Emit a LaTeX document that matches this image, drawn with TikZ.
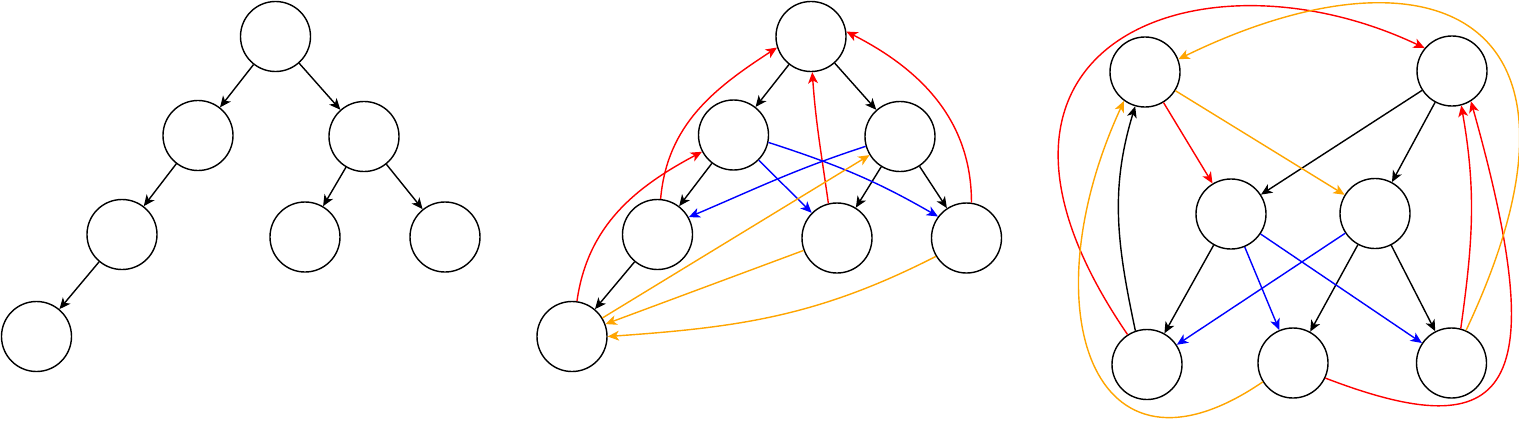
\documentclass[tikz,border=0pt]{standalone}
\usetikzlibrary{arrows.meta}
\definecolor{amber}{HTML}{FFA500}
\begin{document}
\begin{tikzpicture}[x=0.025cm, y=0.025cm,
	vert/.style={circle, draw, line width=1pt, minimum size=1.75cm, inner sep=0pt},
	conn/.style={-{Stealth[length=8pt,width=7pt,inset=2.2pt]}, line width=1pt}]
	\useasboundingbox (0,0) rectangle (1519,-422);
	\node[vert] (t0) at (275.5,-36.5) {};
	\node[vert] (t1) at (198,-135.5) {};
	\node[vert] (t2) at (364,-136.5) {};
	\node[vert] (t3) at (122,-234.5) {};
	\node[vert] (t4) at (305,-237) {};
	\node[vert] (t5) at (445,-237) {};
	\node[vert] (t6) at (36.5,-336.5) {};
	\draw[conn] (t0) -- (t1);
	\draw[conn] (t0) -- (t2);
	\draw[conn] (t1) -- (t3);
	\draw[conn] (t2) -- (t4);
	\draw[conn] (t2) -- (t5);
	\draw[conn] (t3) -- (t6);

	\node[vert] (g0) at (811,-36.5) {};
	\node[vert] (g1) at (733.5,-135) {};
	\node[vert] (g2) at (900,-136.5) {};
	\node[vert] (g3) at (657.5,-234.5) {};
	\node[vert] (g4) at (837,-238) {};
	\node[vert] (g5) at (966.5,-238) {};
	\node[vert] (g6) at (572,-336.5) {};
	\draw[conn] (g0) -- (g1);
	\draw[conn] (g0) -- (g2);
	\draw[conn] (g1) -- (g3);
	\draw[conn] (g2) -- (g4);
	\draw[conn] (g2) -- (g5);
	\draw[conn] (g3) -- (g6);
	\draw[conn, red] (g6.82) to[out=82,in=208] (g1.208);
	\draw[conn, red] (g3.85) to[out=85,in=213] (g0.198);
	\draw[conn, red] (g4.104) to[out=98,in=-86] (g0.272);
	\draw[conn, red] (g5.82) to[out=90,in=-27] (g0.8);
	\draw[conn, blue] (g1) -- (g4);
	\draw[conn, blue] (g1.-12) to[out=-18,in=150] (g5.143);
	\draw[conn, blue] (g2.196) to[out=198,in=23] (g3.29);
	\draw[conn, amber] (g6) -- (g2);
	\draw[conn, amber] (g4) -- (g6);
	\draw[conn, amber] (g5.211) to[out=207,in=4] (g6.0);

	\node[vert] (h1) at (1145,-72) {};
	\node[vert] (h2) at (1452,-71) {};
	\node[vert] (h3) at (1231,-214) {};
	\node[vert] (h4) at (1375,-213.5) {};
	\node[vert] (h5) at (1147,-364.5) {};
	\node[vert] (h6) at (1293,-363) {};
	\node[vert] (h7) at (1451.5,-363) {};
	\draw[conn] (h2) -- (h3);
	\draw[conn] (h2) -- (h4);
	\draw[conn] (h3) -- (h5);
	\draw[conn] (h4) -- (h6);
	\draw[conn] (h4) -- (h7);
	\draw[conn] (h5.109) to[out=102,in=253] (h1.254);
	\draw[conn, red] (h1) -- (h3);
	\draw[conn, red] (h5.123) .. controls +(-200,292) and +(-222.8,106) .. (h2.140);
	\draw[conn, red] (h6.-25) .. controls +(186.7,-71.7) and +(81.2,-288.8) .. (h2.-58);
	\draw[conn, red] (h7.75) to[out=82,in=-80] (h2.-75);
	\draw[conn, blue] (h3) -- (h6);
	\draw[conn, blue] (h3) -- (h7);
	\draw[conn, blue] (h4) -- (h5);
	\draw[conn, amber] (h1) -- (h4);
	\draw[conn, amber] (h7.66) .. controls +(150,318) and +(250.3,122) .. (h1.21);
	\draw[conn, amber] (h6.212) .. controls +(-171.7,-117.3) and +(-95,-205.6) .. (h1.234);
\end{tikzpicture}
\end{document}
